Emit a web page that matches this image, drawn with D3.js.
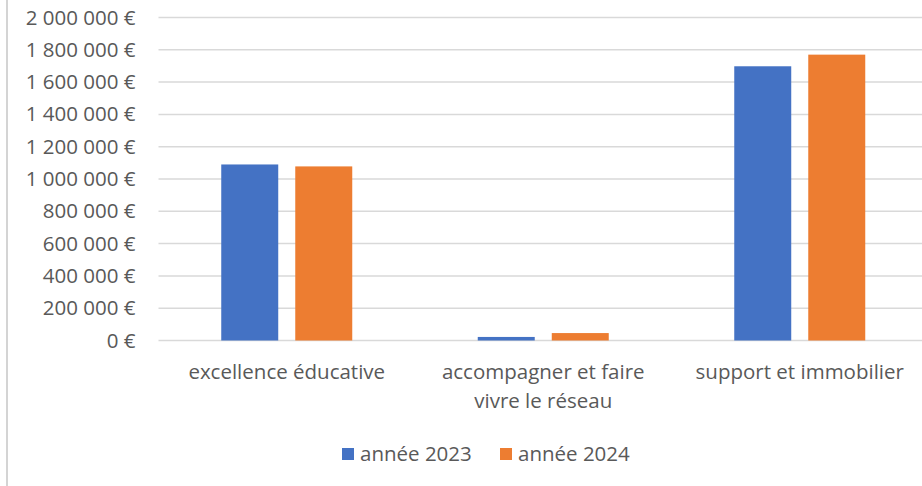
<!DOCTYPE html>
<html>
<head>
<meta charset="utf-8">
<script src="https://cdn.jsdelivr.net/npm/d3@7"></script>
<style>
  body { margin: 0; background: #fff; }
  text { font-family: "Open Sans", Lato, sans-serif; fill: #595959; }
</style>
</head>
<body>
<div id="chart"></div>
<script>
// chart data
var categories = ["excellence éducative", "accompagner et faire vivre le réseau", "support et immobilier"];
var catLines = [["excellence éducative"], ["accompagner et faire", "vivre le réseau"], ["support et immobilier"]];
var seriesNames = ["année 2023", "année 2024"];
var values2023 = [1090000, 22000, 1698000];
var values2024 = [1078000, 46000, 1770000];
var yTicks = [0, 200000, 400000, 600000, 800000, 1000000, 1200000, 1400000, 1600000, 1800000, 2000000];

var colors = ["#4472C4", "#ED7D31"];
var fontSize = "20.5px";

var svgWidth = 922;
var svgHeight = 486;

var margin = { top: 17.5, right: -6, bottom: 145.5, left: 158.5 };
var width = svgWidth - margin.left - margin.right;
var height = svgHeight - margin.top - margin.bottom;

var svg = d3.select("#chart")
    .append("svg")
    .attr("width", svgWidth)
    .attr("height", svgHeight);

// left frame edge
svg.append("line")
    .attr("x1", 7).attr("x2", 7)
    .attr("y1", 0).attr("y2", svgHeight)
    .attr("stroke", "#d4d4d4")
    .attr("stroke-width", 2);

var chartGroup = svg.append("g")
    .attr("transform", `translate(${margin.left}, ${margin.top})`);

var locale = d3.formatLocale({ decimal: ",", thousands: " ", grouping: [3], currency: ["", " €"] });
var fmt = locale.format(",.0f");

var x0 = d3.scaleBand()
    .domain(categories)
    .range([0, width])
    .padding(0);

// two bars of ~57px with a 17px gap, centred in each band
var groupW = 131;
var x1 = d3.scaleBand()
    .domain(seriesNames)
    .range([(x0.bandwidth() - groupW) / 2, (x0.bandwidth() + groupW) / 2])
    .paddingInner(0.23);

var y = d3.scaleLinear()
    .domain([0, 2000000])
    .range([height, 0]);

// gridlines
chartGroup.selectAll(".grid")
    .data(yTicks)
    .enter()
    .append("line")
    .attr("x1", 0)
    .attr("x2", width)
    .attr("y1", d => y(d))
    .attr("y2", d => y(d))
    .attr("stroke", "#d9d9d9")
    .attr("stroke-width", 1.5);

// y axis labels
var leftAxis = d3.axisLeft(y)
    .tickValues(yTicks)
    .tickFormat(d => fmt(d) + " €")
    .tickSize(0)
    .tickPadding(23);

var yAxis = chartGroup.append("g").call(leftAxis);
yAxis.select(".domain").remove();
yAxis.selectAll("text")
    .style("font-family", "'Open Sans', Lato, sans-serif")
    .style("font-size", fontSize)
    .attr("fill", "#595959");

// bars
var series = [values2023, values2024];
var groups = chartGroup.selectAll(".cat")
    .data(categories)
    .enter()
    .append("g")
    .attr("transform", d => `translate(${x0(d)}, 0)`);

groups.selectAll("rect")
    .data((d, i) => seriesNames.map((s, j) => ({ s: s, v: series[j][i], c: colors[j] })))
    .enter()
    .append("rect")
    .attr("x", d => x1(d.s))
    .attr("y", d => y(d.v))
    .attr("width", x1.bandwidth())
    .attr("height", d => height - y(d.v))
    .attr("fill", d => d.c);

// category labels
catLines.forEach((lines, i) => {
    var cx = x0(categories[i]) + x0.bandwidth() / 2;
    var t = chartGroup.append("text")
        .attr("text-anchor", "middle")
        .attr("y", height + 38)
        .style("font-size", fontSize);
    lines.forEach((l, k) => {
        t.append("tspan")
            .attr("x", cx)
            .attr("dy", k === 0 ? 0 : 29)
            .text(l);
    });
});

// legend
var legend = svg.append("g").attr("transform", "translate(342, 454)");
var legendX = [0, 158];
seriesNames.forEach((s, i) => {
    var g = legend.append("g").attr("transform", `translate(${legendX[i]}, 0)`);
    g.append("rect")
        .attr("x", 0).attr("y", -6)
        .attr("width", 12).attr("height", 12)
        .attr("fill", colors[i]);
    g.append("text")
        .attr("x", 18)
        .attr("y", 0)
        .attr("dy", "0.35em")
        .style("font-size", fontSize)
        .text(s);
});
</script>
</body>
</html>
